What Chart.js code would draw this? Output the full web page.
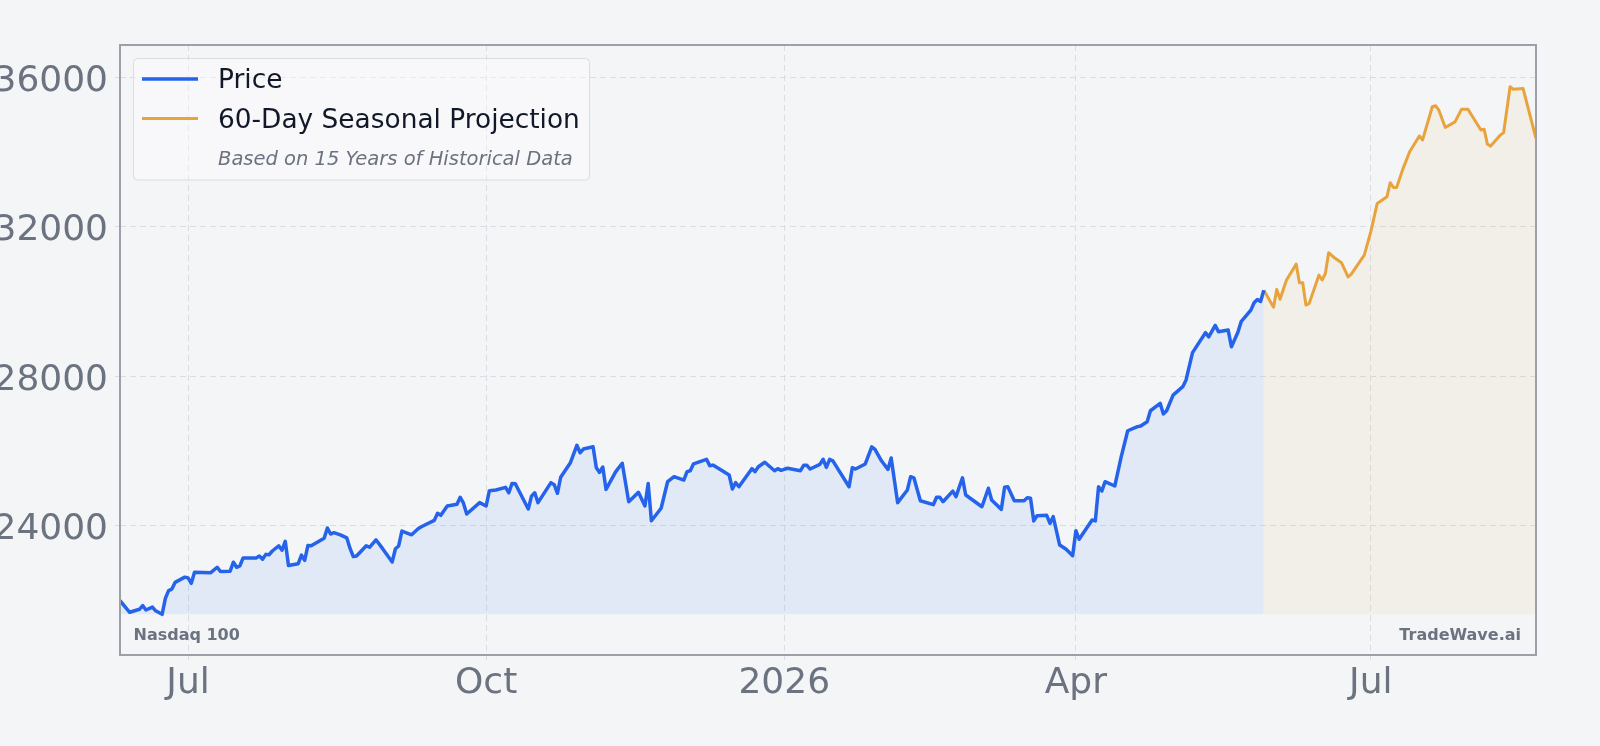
<!DOCTYPE html>
<html><head><meta charset="utf-8">
<script src="https://cdn.jsdelivr.net/npm/chart.js@4.4.1/dist/chart.umd.min.js"></script>
<style>html,body{margin:0;padding:0;background:#f4f5f7;}canvas{display:block;}</style>
</head><body>
<canvas id="c" width="1600" height="746"></canvas>
<script>
const priceDates = ["2025-06-10","2025-06-13","2025-06-16","2025-06-17","2025-06-18","2025-06-20","2025-06-21","2025-06-23","2025-06-24","2025-06-25","2025-06-26","2025-06-27","2025-06-30","2025-07-01","2025-07-02","2025-07-03","2025-07-08","2025-07-10","2025-07-11","2025-07-14","2025-07-15","2025-07-16","2025-07-17","2025-07-18","2025-07-22","2025-07-23","2025-07-24","2025-07-25","2025-07-26","2025-07-27","2025-07-29","2025-07-30","2025-07-31","2025-08-01","2025-08-04","2025-08-05","2025-08-06","2025-08-07","2025-08-08","2025-08-12","2025-08-13","2025-08-14","2025-08-15","2025-08-17","2025-08-19","2025-08-20","2025-08-21","2025-08-22","2025-08-25","2025-08-26","2025-08-28","2025-08-30","2025-09-02","2025-09-03","2025-09-04","2025-09-05","2025-09-08","2025-09-10","2025-09-11","2025-09-15","2025-09-16","2025-09-17","2025-09-19","2025-09-22","2025-09-23","2025-09-24","2025-09-25","2025-09-29","2025-10-01","2025-10-02","2025-10-04","2025-10-07","2025-10-08","2025-10-09","2025-10-10","2025-10-14","2025-10-15","2025-10-16","2025-10-17","2025-10-21","2025-10-22","2025-10-23","2025-10-24","2025-10-27","2025-10-29","2025-10-30","2025-10-31","2025-11-03","2025-11-04","2025-11-05","2025-11-06","2025-11-07","2025-11-10","2025-11-12","2025-11-14","2025-11-17","2025-11-19","2025-11-20","2025-11-21","2025-11-24","2025-11-26","2025-11-28","2025-12-01","2025-12-02","2025-12-03","2025-12-04","2025-12-08","2025-12-09","2025-12-10","2025-12-15","2025-12-16","2025-12-17","2025-12-18","2025-12-22","2025-12-23","2025-12-24","2025-12-26","2025-12-29","2025-12-30","2025-12-31","2026-01-02","2026-01-06","2026-01-07","2026-01-08","2026-01-09","2026-01-12","2026-01-13","2026-01-14","2026-01-15","2026-01-16","2026-01-21","2026-01-22","2026-01-23","2026-01-26","2026-01-28","2026-01-29","2026-01-31","2026-02-02","2026-02-03","2026-02-05","2026-02-08","2026-02-09","2026-02-10","2026-02-12","2026-02-16","2026-02-17","2026-02-18","2026-02-19","2026-02-22","2026-02-23","2026-02-25","2026-02-26","2026-03-03","2026-03-05","2026-03-06","2026-03-09","2026-03-10","2026-03-11","2026-03-13","2026-03-16","2026-03-17","2026-03-18","2026-03-19","2026-03-20","2026-03-23","2026-03-24","2026-03-25","2026-03-27","2026-03-29","2026-03-31","2026-04-01","2026-04-02","2026-04-06","2026-04-07","2026-04-08","2026-04-09","2026-04-10","2026-04-13","2026-04-15","2026-04-17","2026-04-20","2026-04-21","2026-04-23","2026-04-24","2026-04-27","2026-04-28","2026-04-29","2026-05-01","2026-05-04","2026-05-05","2026-05-07","2026-05-09","2026-05-11","2026-05-12","2026-05-14","2026-05-15","2026-05-18","2026-05-19","2026-05-21","2026-05-22","2026-05-25","2026-05-26","2026-05-27","2026-05-28","2026-05-29"];
const priceValues = [21990,21680,21760,21860,21740,21820,21720,21625,22050,22260,22300,22480,22620,22600,22455,22750,22740,22885,22770,22780,23020,22885,22920,23135,23135,23185,23100,23230,23220,23320,23460,23340,23580,22930,22980,23210,23070,23470,23460,23660,23935,23775,23810,23750,23670,23390,23170,23185,23460,23420,23620,23390,23025,23380,23455,23855,23755,23915,23970,24140,24330,24275,24525,24570,24760,24600,24310,24615,24525,24935,24955,25025,24880,25130,25120,24445,24790,24880,24615,25150,25095,24865,25295,25685,26150,25950,26050,26110,25550,25425,25570,24970,25445,25670,24640,24890,24525,25130,24130,24465,25175,25310,25220,25445,25470,25655,25775,25605,25620,25355,24980,25150,25040,25525,25445,25575,25695,25470,25525,25480,25535,25470,25615,25615,25515,25640,25775,25560,25775,25735,25040,25550,25515,25650,26110,26040,25735,25505,25810,24615,24955,25310,25280,24665,24560,24760,24760,24640,24925,24775,25280,24820,24505,25000,24685,24435,25025,25040,24665,24665,24745,24730,24125,24265,24275,24060,24240,23480,23365,23195,23865,23635,24150,24125,25040,24925,25175,25060,25845,26540,26650,26665,26780,27075,27275,26990,27075,27495,27720,27900,28630,28900,29165,29055,29360,29190,29235,28790,29175,29460,29770,29965,30055,30000,30300];
const projDates = ["2026-05-29","2026-06-01","2026-06-02","2026-06-03","2026-06-05","2026-06-08","2026-06-09","2026-06-10","2026-06-11","2026-06-12","2026-06-15","2026-06-16","2026-06-17","2026-06-18","2026-06-20","2026-06-22","2026-06-24","2026-06-25","2026-06-29","2026-07-01","2026-07-03","2026-07-06","2026-07-07","2026-07-08","2026-07-09","2026-07-11","2026-07-13","2026-07-16","2026-07-17","2026-07-20","2026-07-21","2026-07-22","2026-07-24","2026-07-27","2026-07-29","2026-07-31","2026-08-04","2026-08-05","2026-08-06","2026-08-07","2026-08-10","2026-08-11","2026-08-13","2026-08-14","2026-08-17","2026-08-19","2026-08-21"];
const projValues = [30300,29845,30325,30060,30575,31000,30500,30500,29905,29950,30705,30575,30750,31305,31155,31035,30660,30735,31240,31865,32625,32805,33180,33055,33055,33565,34010,34430,34325,35215,35240,35125,34660,34810,35145,35145,34590,34610,34215,34160,34455,34520,35750,35680,35705,35035,34365];
const xTickDates = ["2025-07-01","2025-10-01","2026-01-01","2026-04-01","2026-07-01"];
const xTickLabels = ["Jul","Oct","2026","Apr","Jul"];
const yTickValues = [24000,28000,32000,36000];
const yTickLabels = ["24000","28000","32000","36000"];
const yBounds = [20536, 36867];
const seriesLabels = ["Price","60-Day Seasonal Projection"];
const legendNote = "Based on 15 Years of Historical Data";
const indexName = "Nasdaq 100";
const brandName = "TradeWave.ai";

const FONT = "'DejaVu Sans', sans-serif";
const BLUE = '#2563eb', ORANGE = '#e8a33c', GRAY = '#6b7280';
function dayNum(s){const p=s.split('-').map(Number);return Date.UTC(p[0],p[1]-1,p[2])/86400000;}
const pricePts = priceDates.map((d,i)=>({x:dayNum(d),y:priceValues[i]}));
const projPts = projDates.map((d,i)=>({x:dayNum(d),y:projValues[i]}));
const baseline = Math.min(...priceValues);

const bgPlugin = {
  id:'bg',
  beforeDraw(chart){
    const c=chart.ctx; c.save(); c.fillStyle='#f4f5f7'; c.fillRect(0,0,chart.width,chart.height); c.restore();
  }
};
const overlayPlugin = {
  id:'overlay',
  afterDraw(chart){
    const c=chart.ctx, a=chart.chartArea;
    c.save();
    c.strokeStyle='#9ca0a8'; c.lineWidth=2;
    c.strokeRect(a.left, a.top, a.right-a.left, a.bottom-a.top);
    c.fillStyle=GRAY; c.font="bold 16px "+FONT; c.textBaseline='middle';
    c.textAlign='left'; c.fillText(indexName, a.left+13.5, a.bottom-19);
    c.textAlign='right'; c.fillText(brandName, a.right-15, a.bottom-19);
    const lx=a.left+13.5, ly=a.top+13.5, lw=456, lh=121.5, r=4;
    c.beginPath();
    c.moveTo(lx+r,ly); c.lineTo(lx+lw-r,ly); c.arcTo(lx+lw,ly,lx+lw,ly+r,r);
    c.lineTo(lx+lw,ly+lh-r); c.arcTo(lx+lw,ly+lh,lx+lw-r,ly+lh,r);
    c.lineTo(lx+r,ly+lh); c.arcTo(lx,ly+lh,lx,ly+lh-r,r);
    c.lineTo(lx,ly+r); c.arcTo(lx,ly,lx+r,ly,r); c.closePath();
    c.fillStyle='rgba(255,255,255,0.35)'; c.fill();
    c.strokeStyle='#d9dce1'; c.lineWidth=1; c.stroke();
    const rows=[a.top+34,a.top+73.5];
    const cols=[BLUE,ORANGE], widths=[3.5,3];
    for(let i=0;i<2;i++){
      c.beginPath(); c.strokeStyle=cols[i]; c.lineWidth=widths[i];
      c.moveTo(a.left+22,rows[i]); c.lineTo(a.left+78,rows[i]); c.stroke();
      c.fillStyle='#111827'; c.font="26.4px "+FONT; c.textAlign='left'; c.textBaseline='middle';
      c.fillText(seriesLabels[i], a.left+98, rows[i]+2.5);
    }
    c.fillStyle=GRAY; c.font="italic 19.5px "+FONT;
    c.fillText(legendNote, a.left+98, a.top+115);
    c.restore();
  }
};

new Chart(document.getElementById('c').getContext('2d'), {
  type:'line',
  data:{datasets:[
    {label:seriesLabels[0], data:pricePts, borderColor:BLUE, borderWidth:3.5, backgroundColor:'rgba(59,130,246,0.1)',
     fill:{value:baseline}, pointRadius:0, tension:0, borderJoinStyle:'round'},
    {label:seriesLabels[1], data:projPts, borderColor:ORANGE, borderWidth:3, backgroundColor:'rgba(232,163,60,0.08)',
     fill:{value:baseline}, pointRadius:0, tension:0, borderJoinStyle:'round'}
  ]},
  options:{
    responsive:false, animation:false, devicePixelRatio:1,
    layout:{padding:{top:45,right:64,left:0,bottom:0}},
    plugins:{legend:{display:false}, tooltip:{enabled:false}},
    scales:{
      x:{type:'linear', min:dayNum(priceDates[0]), max:dayNum(projDates[projDates.length-1]),
        afterBuildTicks:s=>{s.ticks=xTickDates.map(d=>({value:dayNum(d)}));},
        afterFit:s=>{s.height=91;},
        ticks:{callback:(v,i)=>xTickLabels[i], color:GRAY, font:{family:FONT,size:36}, padding:2, autoSkip:false, maxRotation:0},
        grid:{color:'#d9dde3', lineWidth:1, tickLength:5},
        border:{display:false, dash:[6,4]}
      },
      y:{min:yBounds[0], max:yBounds[1],
        afterBuildTicks:s=>{s.ticks=yTickValues.map(v=>({value:v}));},
        afterFit:s=>{s.width=120;},
        ticks:{callback:(v,i)=>yTickLabels[i], color:GRAY, font:{family:FONT,size:36}, padding:7, labelOffset:4},
        grid:{color:'#d9dde3', lineWidth:1, tickLength:5},
        border:{display:false, dash:[6,4]}
      }
    }
  },
  plugins:[bgPlugin, overlayPlugin]
});
</script>
</body></html>
